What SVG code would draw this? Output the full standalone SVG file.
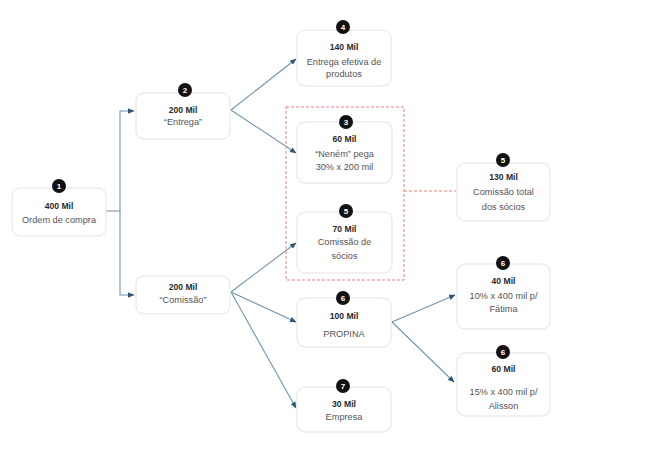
<svg xmlns="http://www.w3.org/2000/svg" width="646" height="450" viewBox="0 0 646 450">
<style>
.box{fill:#fff;stroke:#e3e3e3;stroke-width:1}
.num{fill:#111}
.nt{font-family:"Liberation Sans",Arial,sans-serif;font-size:8px;font-weight:bold;fill:#fff;text-anchor:middle}
.b{font-family:"Liberation Sans",Arial,sans-serif;font-size:8.6px;font-weight:bold;fill:#2a2a2a;text-anchor:middle}
.t{font-family:"Liberation Sans",Arial,sans-serif;font-size:9.2px;fill:#555;text-anchor:middle}
.ln{fill:none;stroke:#6f94b0;stroke-width:1.1;marker-end:url(#ah)}
.dash{fill:none;stroke:#e8807c;stroke-width:1;stroke-dasharray:3 2}
</style>
<defs>
<marker id="ah" markerUnits="userSpaceOnUse" markerWidth="7" markerHeight="6" refX="6" refY="2.75" orient="auto">
<path d="M0,0 L6.5,2.75 L0,5.5 z" fill="#2f5878"/>
</marker>
</defs>
<rect width="646" height="450" fill="#fff"/>
<g id="connectors">
<path class="ln" d="M106,211 H120 V111 H134"/>
<path class="ln" d="M120,211 V295 H134"/>
<path class="ln" d="M231,110 L296,59"/>
<path class="ln" d="M231,110 L296,153"/>
<path class="ln" d="M231,292 L296,243"/>
<path class="ln" d="M231,292 L296,322"/>
<path class="ln" d="M231,292 L296,408"/>
<path class="ln" d="M392,322 L455,295"/>
<path class="ln" d="M392,322 L454,382"/>
<rect class="dash" x="286" y="107" width="118" height="173"/>
<path class="dash" d="M404,191 H456"/>
</g>
<g id="n1">
<rect class="box" x="12" y="188" width="94" height="48" rx="8"/>
<circle class="num" cx="59" cy="186" r="7"/><text class="nt" x="59" y="189">1</text>
<text class="b" x="59" y="209">400 Mil</text>
<text class="t" x="59" y="223">Ordem de compra</text>
</g>
<g id="n2">
<rect class="box" x="136" y="93" width="94" height="46" rx="8"/>
<circle class="num" cx="185" cy="90" r="7"/><text class="nt" x="185" y="93">2</text>
<text class="b" x="183" y="113">200 Mil</text>
<text class="t" x="183" y="125">“Entrega”</text>
</g>
<g id="n2b">
<rect class="box" x="136" y="276" width="94" height="38" rx="8"/>
<text class="b" x="183" y="290">200 Mil</text>
<text class="t" x="183" y="303">“Comissão”</text>
</g>
<g id="n4">
<rect class="box" x="297" y="30" width="94" height="56" rx="8"/>
<circle class="num" cx="343" cy="27" r="7"/><text class="nt" x="343" y="30">4</text>
<text class="b" x="344" y="50">140 Mil</text>
<text class="t" x="344" y="65">Entrega efetiva de</text>
<text class="t" x="344" y="77">produtos</text>
</g>
<g id="n3">
<rect class="box" x="297" y="122" width="95" height="61" rx="8"/>
<circle class="num" cx="346" cy="122" r="7"/><text class="nt" x="346" y="125">3</text>
<text class="b" x="344.5" y="142">60 Mil</text>
<text class="t" x="344.5" y="157">“Neném” pega</text>
<text class="t" x="344.5" y="170">30% x 200 mil</text>
</g>
<g id="n5a">
<rect class="box" x="297" y="212" width="95" height="61" rx="8"/>
<circle class="num" cx="346" cy="211" r="7"/><text class="nt" x="346" y="214">5</text>
<text class="b" x="344.5" y="232">70 Mil</text>
<text class="t" x="344.5" y="245">Comissão de</text>
<text class="t" x="344.5" y="259">sócios</text>
</g>
<g id="n5b">
<rect class="box" x="457" y="163" width="93" height="58" rx="8"/>
<circle class="num" cx="503" cy="160" r="7"/><text class="nt" x="503" y="163">5</text>
<text class="b" x="503.5" y="180">130 Mil</text>
<text class="t" x="503.5" y="195">Comissão total</text>
<text class="t" x="503.5" y="210">dos sócios</text>
</g>
<g id="n6a">
<rect class="box" x="297" y="298" width="94" height="49" rx="8"/>
<circle class="num" cx="343" cy="298" r="7"/><text class="nt" x="343" y="301">6</text>
<text class="b" x="344" y="319">100 Mil</text>
<text class="t" x="344" y="337">PROPINA</text>
</g>
<g id="n6b">
<rect class="box" x="457" y="264" width="93" height="65" rx="8"/>
<circle class="num" cx="503" cy="263" r="7"/><text class="nt" x="503" y="266">6</text>
<text class="b" x="503.5" y="284">40 Mil</text>
<text class="t" x="503.5" y="299">10% x 400 mil p/</text>
<text class="t" x="503.5" y="312">Fátima</text>
</g>
<g id="n6c">
<rect class="box" x="457" y="353" width="93" height="63" rx="8"/>
<circle class="num" cx="503" cy="352" r="7"/><text class="nt" x="503" y="355">6</text>
<text class="b" x="503.5" y="372">60 Mil</text>
<text class="t" x="503.5" y="395">15% x 400 mil p/</text>
<text class="t" x="503.5" y="409">Alisson</text>
</g>
<g id="n7">
<rect class="box" x="297" y="387" width="94" height="45" rx="8"/>
<circle class="num" cx="343" cy="386" r="7"/><text class="nt" x="343" y="389">7</text>
<text class="b" x="344" y="407">30 Mil</text>
<text class="t" x="344" y="420">Empresa</text>
</g>
</svg>
